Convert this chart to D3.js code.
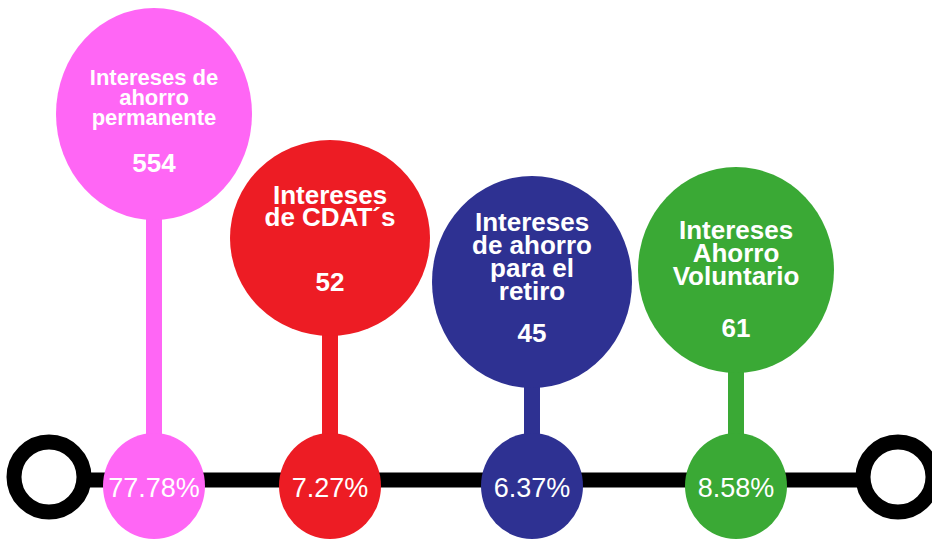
<!DOCTYPE html>
<html>
<head>
<meta charset="utf-8">
<script src="https://cdn.jsdelivr.net/npm/d3@7"></script>
<style>
  body { margin: 0; background: #fff; }
  svg { display: block; }
</style>
</head>
<body>
<svg width="932" height="541"></svg>
<script>
// data
var categories = ["Intereses de ahorro permanente", "Intereses de CDAT´s", "Intereses de ahorro para el retiro", "Intereses Ahorro Voluntario"];
var labelLines = [
    ["Intereses de", "ahorro", "permanente"],
    ["Intereses", "de CDAT´s"],
    ["Intereses", "de ahorro", "para el", "retiro"],
    ["Intereses", "Ahorro", "Voluntario"]
];
var values = [554, 52, 45, 61];
var percents = [77.78, 7.27, 6.37, 8.58];
var colors = ["#ff66f5", "#ed1c24", "#2e3192", "#3aa935"];

// layout (hand tuned to the original)
var nudgeX = [0, -18, -10, 0];
var bubbleY = [114, 238, 282, 270];
var bubbleRx = [98, 100, 100, 98];
var bubbleRy = [106, 98, 106, 103];
var labelSize = [22, 26, 26, 26];
var lineGap = [20, 22, 23, 23];
var labelTop = [-29, -34, -51, -31];   // first baseline, relative to bubble centre
var numberY = [58, 53, 60, 67];        // number baseline, relative to bubble centre

var svg = d3.select("svg"),
    width = +svg.attr("width"),
    height = +svg.attr("height"),
    lineY = 480,
    dotY = 486,
    dotR = 51;

var x = d3.scalePoint()
    .domain(categories)
    .range([154, 736]);

var rows = categories.map(function(c, i) {
    return {
        name: c, lines: labelLines[i], value: values[i], pct: percents[i], color: colors[i],
        cx: x(c) + nudgeX[i], cy: bubbleY[i], rx: bubbleRx[i], ry: bubbleRy[i], i: i
    };
});

// timeline
svg.append("line")
    .attr("x1", 49).attr("x2", 898)
    .attr("y1", lineY).attr("y2", lineY)
    .attr("stroke", "#000")
    .attr("stroke-width", 15);

svg.selectAll(".ring")
    .data([49, 898])
    .enter().append("circle")
        .attr("class", "ring")
        .attr("cx", function(d) { return d; })
        .attr("cy", 477)
        .attr("r", 35)
        .attr("fill", "#fff")
        .attr("stroke", "#000")
        .attr("stroke-width", 15);

var g = svg.selectAll(".item")
    .data(rows)
    .enter().append("g")
        .attr("class", "item");

// stem
g.append("rect")
    .attr("x", function(d) { return d.cx - 8; })
    .attr("width", 16)
    .attr("y", function(d) { return d.cy + d.ry - 10; })
    .attr("height", function(d) { return dotY - (d.cy + d.ry - 10); })
    .attr("fill", function(d) { return d.color; });

g.append("ellipse")
    .attr("cx", function(d) { return d.cx; })
    .attr("cy", function(d) { return d.cy; })
    .attr("rx", function(d) { return d.rx; })
    .attr("ry", function(d) { return d.ry; })
    .attr("fill", function(d) { return d.color; });

g.append("ellipse")
    .attr("cx", function(d) { return d.cx; })
    .attr("cy", dotY)
    .attr("rx", dotR)
    .attr("ry", 53)
    .attr("fill", function(d) { return d.color; });

var label = g.append("text")
    .attr("text-anchor", "middle")
    .attr("fill", "#fff")
    .style("font-family", "'Liberation Sans', Arial, sans-serif")
    .style("font-weight", "bold")
    .style("font-size", function(d) { return labelSize[d.i] + "px"; });

label.selectAll("tspan")
    .data(function(d) { return d.lines.map(function(l, k) { return {t: l, k: k, p: d}; }); })
    .enter().append("tspan")
        .attr("x", function(d) { return d.p.cx; })
        .attr("y", function(d) { return d.p.cy + labelTop[d.p.i] + d.k * lineGap[d.p.i]; })
        .text(function(d) { return d.t; });

g.append("text")
    .attr("text-anchor", "middle")
    .attr("x", function(d) { return d.cx; })
    .attr("y", function(d) { return d.cy + numberY[d.i]; })
    .attr("fill", "#fff")
    .style("font-family", "'Liberation Sans', Arial, sans-serif")
    .style("font-weight", "bold")
    .style("font-size", "26px")
    .text(function(d) { return d.value; });

g.append("text")
    .attr("text-anchor", "middle")
    .attr("x", function(d) { return d.cx; })
    .attr("y", 497)
    .attr("fill", "#fff")
    .style("font-family", "'Liberation Sans', Arial, sans-serif")
    .style("font-size", "27px")
    .text(function(d) { return d.pct.toFixed(2) + "%"; });
</script>
</body>
</html>
